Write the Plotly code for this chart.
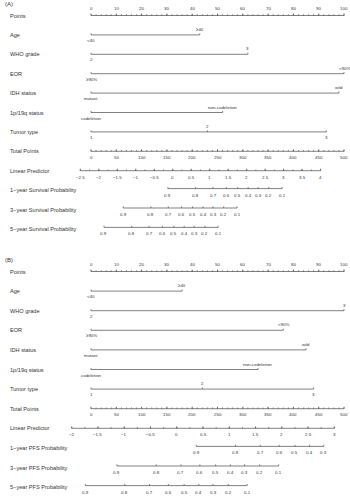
import plotly.graph_objects as go

# ---------------- data ----------------
POINTS_MAJOR = list(range(0, 101, 10))
POINTS_MINOR = list(range(0, 101, 2))
TOTAL_MAJOR = list(range(0, 501, 50))
TOTAL_MINOR = list(range(0, 501, 10))

VAR_NAMES = ["Age", "WHO grade", "EOR", "IDH status", "1p/19q status", "Tumor type"]
VAR_LEVELS = [["<40", "≥40"], ["2", "3"], ["≥90%", "<90%"], ["mutant", "wild"],
              ["codeletion", "non-codeletion"], ["1", "2", "3"]]

A_POINTS = [[0, 43], [0, 62], [0, 100], [0, 98], [0, 52], [0, 46, 93]]
B_POINTS = [[0, 36], [0, 100], [0, 76], [0, 85], [0, 66], [0, 44, 88]]

# linear predictor axis: ticks and mapping to total points
A_LP_MAJOR = [-2.5, -2, -1.5, -1, -0.5, 0, 0.5, 1, 1.5, 2, 2.5, 3, 3.5, 4]
A_LP_MINOR = [v / 4 for v in range(-10, 17)]
A_TOTAL_AT_LP0 = 161.5
A_TOTAL_PER_LP = 73.05

B_LP_MAJOR = [-2, -1.5, -1, -0.5, 0, 0.5, 1, 1.5, 2, 2.5, 3]
B_LP_MINOR = [v / 4 for v in range(-8, 13)]
B_TOTAL_AT_LP0 = 169.5
B_TOTAL_PER_LP = 103.8

# probability scales: probability labels and their linear-predictor positions
A_SURV_NAMES = ["1−year Survival Probability", "3−year Survival Probability",
                "5−year Survival Probability"]
A_SURV_PROBS = [[0.9, 0.8, 0.7, 0.6, 0.5, 0.4, 0.3, 0.2, 0.1]] * 3
A_SURV_LP = [
    [-0.13, 0.62, 1.09, 1.45, 1.76, 2.04, 2.31, 2.60, 2.96],
    [-1.34, -0.59, -0.12, 0.24, 0.54, 0.82, 1.09, 1.38, 1.74],
    [-1.86, -1.11, -0.64, -0.28, 0.03, 0.31, 0.58, 0.87, 1.23],
]

B_SURV_NAMES = ["1−year PFS Probability", "3−year PFS Probability",
                "5−year PFS Probability"]
B_SURV_PROBS = [[0.9, 0.8, 0.7, 0.6, 0.5, 0.4, 0.3],
                [0.9, 0.8, 0.7, 0.6, 0.5, 0.4, 0.3, 0.2, 0.1],
                [0.9, 0.8, 0.7, 0.6, 0.5, 0.4, 0.3, 0.2, 0.1]]
B_SURV_LP = [
    [0.37, 1.12, 1.59, 1.95, 2.25, 2.53, 2.80],
    [-1.14, -0.39, 0.08, 0.44, 0.74, 1.02, 1.29, 1.58, 1.94],
    [-1.74, -0.99, -0.52, -0.16, 0.14, 0.42, 0.69, 0.98, 1.34],
]

# ---------------- layout helpers ----------------
W, H = 350, 500
X0PX, X100PX = 91, 344
PX_PER_PT = (X100PX - X0PX) / 100.0
XRANGE = [-X0PX / PX_PER_PT, (W - X0PX) / PX_PER_PT]

LINE_COL = "#4a4a4a"
TEXT_COL = "#333333"
FONT = "Liberation Sans, Arial, sans-serif"
LBL_SIZE = 5.6
TICK_SIZE = 4.4

fig = go.Figure()
annotations = []
seg_x, seg_y = [], []


def seg(x1, y1, x2, y2):
    seg_x.extend([x1, x2, None])
    seg_y.extend([y1, y2, None])


def text(x, y, s, size=TICK_SIZE, xref="x", xanchor="center"):
    annotations.append(dict(x=x, y=y, xref=xref, yref="y", text=s, showarrow=False,
                            xanchor=xanchor, yanchor="middle",
                            font=dict(family=FONT, size=size, color=TEXT_COL)))


def fmt(v):
    s = ("%g" % v)
    return s.replace("-", "−")


def row_label(y, s):
    text(8 / W, y, s, size=LBL_SIZE, xref="paper", xanchor="left")


def draw_panel(title, y0, dy, var_points, lp_major, lp_minor, total_lp0, total_per_lp,
               surv_names, surv_probs, surv_lp):
    def lp_to_pts(lp):
        return (total_lp0 + lp * total_per_lp) / 5.0

    text(3 / W, y0 - 11.5, title, size=6, xref="paper", xanchor="left")
    # Points axis
    y = y0
    row_label(y, "Points")
    seg(0, y, 100, y)
    for v in POINTS_MINOR:
        seg(v, y, v, y - 1.2)
    for v in POINTS_MAJOR:
        seg(v, y, v, y - 2.0)
        text(v, y - 7, str(v))
    # variables
    for i, (name, levels, pts) in enumerate(zip(VAR_NAMES, VAR_LEVELS, var_points)):
        y = y0 + dy * (i + 1)
        row_label(y, name)
        seg(min(pts), y, max(pts), y)
        for j, (lev, p) in enumerate(zip(levels, pts)):
            seg(p, y, p, y - 1.6)
            text(p, y + 5.5 if j % 2 == 0 else y - 5.5, lev)
    # Total points
    y = y0 + dy * 7
    row_label(y, "Total Points")
    seg(0, y, 100, y)
    for v in TOTAL_MINOR:
        seg(v / 5, y, v / 5, y - 1.2)
    for v in TOTAL_MAJOR:
        seg(v / 5, y, v / 5, y - 2.0)
        text(v / 5, y + 6, str(v))
    # Linear predictor
    y = y0 + dy * 8
    row_label(y, "Linear Predictor")
    seg(lp_to_pts(min(lp_major)), y, lp_to_pts(max(lp_major)), y)
    for v in lp_minor:
        seg(lp_to_pts(v), y, lp_to_pts(v), y - 1.2)
    for v in lp_major:
        seg(lp_to_pts(v), y, lp_to_pts(v), y - 2.0)
        text(lp_to_pts(v), y + 6.5, fmt(v))
    # Probability scales
    for k, (name, probs, lps) in enumerate(zip(surv_names, surv_probs, surv_lp)):
        y = y0 + dy * (9 + k)
        row_label(y, name)
        xs = [lp_to_pts(v) for v in lps]
        ly = y - 1.5
        seg(min(xs), ly, max(xs), ly)
        for p, x in zip(probs, xs):
            seg(x, ly, x, ly - 1.6)
            text(x, ly + 6.5, fmt(p))


draw_panel("(A)", 15.5, 19.4, A_POINTS, A_LP_MAJOR, A_LP_MINOR, A_TOTAL_AT_LP0,
           A_TOTAL_PER_LP, A_SURV_NAMES, A_SURV_PROBS, A_SURV_LP)
draw_panel("(B)", 271.5, 19.6, B_POINTS, B_LP_MAJOR, B_LP_MINOR, B_TOTAL_AT_LP0,
           B_TOTAL_PER_LP, B_SURV_NAMES, B_SURV_PROBS, B_SURV_LP)

fig.add_trace(go.Scatter(x=seg_x, y=seg_y, mode="lines",
                         line=dict(color=LINE_COL, width=0.7),
                         hoverinfo="skip", showlegend=False))

fig.update_layout(
    width=W, height=H,
    margin=dict(l=0, r=0, t=0, b=0),
    paper_bgcolor="white", plot_bgcolor="white",
    xaxis=dict(range=XRANGE, visible=False, fixedrange=True),
    yaxis=dict(range=[H, 0], visible=False, fixedrange=True),
    annotations=annotations,
    showlegend=False,
)

fig.write_html("out.html")
